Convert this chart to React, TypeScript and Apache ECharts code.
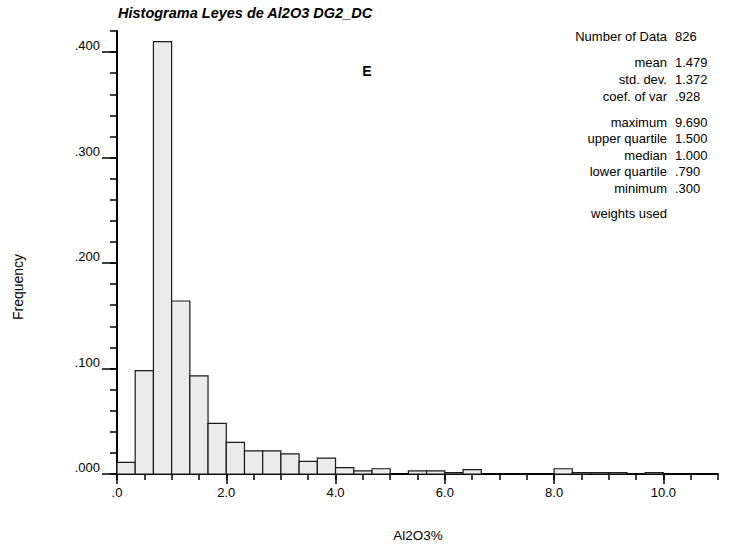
import React, { useEffect, useRef } from 'react';
import * as echarts from 'echarts';

const titleText = 'Histograma Leyes de Al2O3 DG2_DC';
const xAxisName = 'Al2O3%';
const yAxisName = 'Frequency';
const binStart = 0;
const binWidth = 1 / 3;
const frequencies = [
  0.011, 0.098, 0.410, 0.164, 0.093, 0.048, 0.030, 0.022, 0.022, 0.019,
  0.012, 0.015, 0.006, 0.003, 0.005, 0, 0.003, 0.003, 0.0013, 0.0042,
  0, 0, 0, 0, 0.005, 0.0013, 0.0013, 0.0013, 0, 0.0013,
];
const xMajorTicks = [0, 2, 4, 6, 8, 10];
const yMajorTicks = [0, 0.1, 0.2, 0.3, 0.4];
const statLabels = ['Number of Data', 'mean', 'std. dev.', 'coef. of var', 'maximum', 'upper quartile', 'median', 'lower quartile', 'minimum', 'weights used'];
const statValues = ['826', '1.479', '1.372', '.928', '9.690', '1.500', '1.000', '.790', '.300', ''];
const statRowY = [36, 62, 79, 96, 122, 138, 155, 171, 188, 213];

const FONT = '"Liberation Sans", Arial, Helvetica, sans-serif';

export default function App() {
  const ref = useRef<HTMLDivElement>(null);
  useEffect(() => {
    if (!ref.current) return;
    const chart = echarts.init(ref.current, undefined, { renderer: 'svg' });
    const data = frequencies
      .map((f, i) => [binStart + i * binWidth, binStart + (i + 1) * binWidth, f])
      .filter((d) => d[2] > 0);
    const axisBase = { type: 'value' as const, min: 0 };
    const graphics: any[] = [
      { type: 'text', left: 118, top: 5, style: { text: titleText, font: `italic bold 14.5px ${FONT}`, fill: '#000' } },
      { type: 'text', x: 367, y: 71, style: { text: 'E', font: `bold 14px ${FONT}`, fill: '#000', align: 'center', verticalAlign: 'middle' } },
      { type: 'text', x: 418, y: 535, style: { text: xAxisName, font: `13.5px ${FONT}`, fill: '#000', align: 'center', verticalAlign: 'middle' } },
      { type: 'text', x: 18, y: 287, rotation: Math.PI / 2, style: { text: yAxisName, font: `14px ${FONT}`, fill: '#000', align: 'center', verticalAlign: 'middle' } },
    ];
    statLabels.forEach((l, i) => {
      graphics.push({ type: 'text', x: 667, y: statRowY[i], style: { text: l, font: `13px ${FONT}`, fill: '#000', align: 'right', verticalAlign: 'middle' } });
      if (statValues[i]) graphics.push({ type: 'text', x: 675, y: statRowY[i], style: { text: statValues[i], font: `13px ${FONT}`, fill: '#000', align: 'left', verticalAlign: 'middle' } });
    });
    chart.setOption({
      animation: false,
      backgroundColor: '#fff',
      grid: { left: 117, right: 36, top: 31, bottom: 74, containLabel: false },
      xAxis: [
        {
          ...axisBase, max: 11, position: 'bottom',
          axisLine: { show: true, lineStyle: { color: '#000', width: 2 } },
          axisTick: { show: true, length: 10, customValues: xMajorTicks, lineStyle: { color: '#000', width: 1.5 } },
          axisLabel: { customValues: xMajorTicks, margin: 12, color: '#000', fontSize: 13, fontFamily: FONT,
            formatter: (v: number) => v.toFixed(1).replace(/^0\./, '.') },
          splitLine: { show: false },
        },
        {
          ...axisBase, max: 11, interval: 0.5, position: 'bottom',
          axisLine: { show: false },
          axisTick: { show: true, length: 6, lineStyle: { color: '#000', width: 1.5 } },
          axisLabel: { show: false },
          splitLine: { show: false },
        },
      ],
      yAxis: [
        {
          ...axisBase, max: 0.42, position: 'left',
          axisLine: { show: true, lineStyle: { color: '#000', width: 2 } },
          axisTick: { show: true, length: 15, customValues: yMajorTicks, lineStyle: { color: '#000', width: 1.5 } },
          axisLabel: { customValues: yMajorTicks, margin: 17, color: '#000', fontSize: 13, fontFamily: FONT,
            verticalAlign: 'bottom', lineHeight: 13,
            formatter: (v: number) => v.toFixed(3).replace(/^0\./, '.') },
          splitLine: { show: false },
        },
        {
          ...axisBase, max: 0.42, interval: 0.02, position: 'left',
          axisLine: { show: false },
          axisTick: { show: true, length: 7, lineStyle: { color: '#000', width: 1.5 } },
          axisLabel: { show: false },
          splitLine: { show: false },
        },
      ],
      series: [
        {
          type: 'custom',
          xAxisIndex: 0,
          yAxisIndex: 0,
          data,
          encode: { x: [0, 1], y: 2 },
          renderItem: (params: any, api: any) => {
            const p0 = api.coord([api.value(0), api.value(2)]);
            const p1 = api.coord([api.value(1), 0]);
            return {
              type: 'rect',
              shape: { x: p0[0], y: p0[1], width: p1[0] - p0[0], height: p1[1] - p0[1] },
              style: { fill: '#ebebeb', stroke: '#1a1a1a', lineWidth: 1.2 },
            };
          },
        },
      ],
      graphic: graphics,
    });
    return () => chart.dispose();
  }, []);
  return <div ref={ref} style={{ position: 'fixed', left: 0, top: 0, width: 754, height: 548, background: '#fff' }} />;
}
